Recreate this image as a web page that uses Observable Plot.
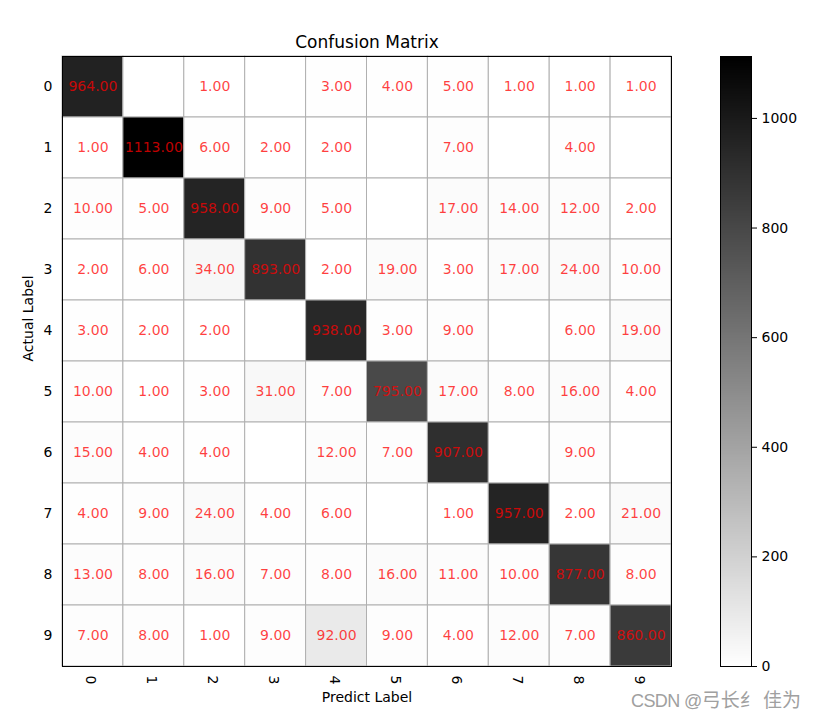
<!DOCTYPE html>
<html>
<head>
<meta charset="utf-8">
<script src="https://cdn.jsdelivr.net/npm/d3@7"></script>
<script src="https://cdn.jsdelivr.net/npm/@observablehq/plot@0.6"></script>
<style>
  html, body { margin: 0; padding: 0; background: #fff; }
  #wrap { position: relative; width: 816px; height: 719px; overflow: hidden; font-family: "DejaVu Sans", sans-serif; }
  #main { position: absolute; left: 0; top: 0; }
  #cbar { position: absolute; left: 700px; top: 0; }
  #mark { position: absolute; left: 631px; top: 685px; font-size: 19px; line-height: 27px; color: #a0a0a0; font-family: "Noto Sans CJK SC", sans-serif; white-space: nowrap; }
  #mark .lat { font-family: "Liberation Sans", sans-serif; letter-spacing: -0.6px; font-size: 18px; }
</style>
</head>
<body>
<div id="wrap">
  <div id="main"></div>
  <div id="cbar"></div>
  <div id="mark"><span class="lat">CSDN @</span>弓长纟 佳为</div>
</div>
<script>
const labels = ["0", "1", "2", "3", "4", "5", "6", "7", "8", "9"];
const row0 = [964, 0, 1, 0, 3, 4, 5, 1, 1, 1];
const row1 = [1, 1113, 6, 2, 2, 0, 7, 0, 4, 0];
const row2 = [10, 5, 958, 9, 5, 0, 17, 14, 12, 2];
const row3 = [2, 6, 34, 893, 2, 19, 3, 17, 24, 10];
const row4 = [3, 2, 2, 0, 938, 3, 9, 0, 6, 19];
const row5 = [10, 1, 3, 31, 7, 795, 17, 8, 16, 4];
const row6 = [15, 4, 4, 0, 12, 7, 907, 0, 9, 0];
const row7 = [4, 9, 24, 4, 6, 0, 1, 957, 2, 21];
const row8 = [13, 8, 16, 7, 8, 16, 11, 10, 877, 8];
const row9 = [7, 8, 1, 9, 92, 9, 4, 12, 7, 860];
const colorbarTicks = [0, 200, 400, 600, 800, 1000];

const rows = [row0, row1, row2, row3, row4, row5, row6, row7, row8, row9];
const cells = [];
rows.forEach((r, i) => r.forEach((v, j) => cells.push({actual: labels[i], predict: labels[j], value: v})));
const vmax = d3.max(cells, d => d.value);
const fmt = d3.format(".2f");
const colorOpts = { type: "linear", domain: [0, vmax], range: ["#ffffff", "#000000"], interpolate: "rgb" };

const main = Plot.plot({
  width: 816,
  height: 719,
  marginLeft: 62,
  marginRight: 145,
  marginTop: 56,
  marginBottom: 53,
  style: { fontFamily: "DejaVu Sans", fontSize: "14px", color: "#000", background: "transparent" },
  x: { domain: labels, padding: 0, round: false, axis: null },
  y: { domain: labels, padding: 0, round: false, label: null, tickSize: 0, tickPadding: 10 },
  color: colorOpts,
  marks: [
    Plot.cell(cells, { x: "predict", y: "actual", fill: "value", stroke: "#b0b0b0", strokeWidth: 1, inset: 0 }),
    Plot.text(cells.filter(d => d.value > 0), { x: "predict", y: "actual", text: d => fmt(d.value), fill: "red", fillOpacity: 0.75, fontSize: 14 }),
    Plot.frame({ stroke: "#000", strokeWidth: 1 }),
    Plot.axisX({ anchor: "bottom", tickSize: 0, tickRotate: 90, tickPadding: 9, dx: -2, label: null }),
    Plot.text(["Confusion Matrix"], { frameAnchor: "top", lineAnchor: "middle", dy: -14, fontSize: 17, fill: "#000" }),
    Plot.text(["Predict Label"], { frameAnchor: "bottom", lineAnchor: "middle", dy: 31, fontSize: 14, fill: "#000" }),
    Plot.text(["Actual Label"], { frameAnchor: "left", lineAnchor: "middle", dx: -34, rotate: -90, fontSize: 14, fill: "#000" })
  ]
});
document.getElementById("main").appendChild(main);

const cbar = Plot.plot({
  width: 116,
  height: 719,
  marginLeft: 20,
  marginRight: 65,
  marginTop: 56,
  marginBottom: 53,
  style: { fontFamily: "DejaVu Sans", fontSize: "14px", color: "#000", background: "transparent" },
  x: { axis: null, domain: [0, 1] },
  y: { domain: [0, vmax], axis: "right", ticks: colorbarTicks, tickSize: 5, tickPadding: 5, label: null, tickFormat: d3.format("d") },
  color: colorOpts,
  marks: [
    Plot.raster({ fill: (x, y) => y, x1: 0, x2: 1, y1: 0, y2: vmax, width: 1, height: 500, imageRendering: "auto" }),
    Plot.frame({ stroke: "#000", strokeWidth: 1 })
  ]
});
document.getElementById("cbar").appendChild(cbar);
</script>
</body>
</html>
